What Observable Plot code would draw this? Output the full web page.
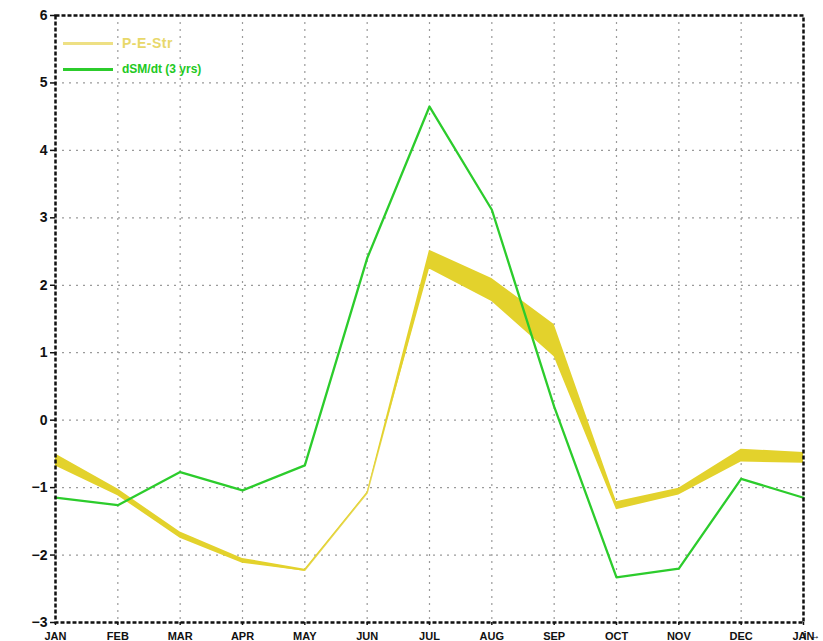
<!DOCTYPE html>
<html>
<head>
<meta charset="utf-8">
<script src="https://cdn.jsdelivr.net/npm/d3@7"></script>
<script src="https://cdn.jsdelivr.net/npm/@observablehq/plot@0.6"></script>
<style>
  html, body { margin: 0; padding: 0; background: #fff; }
  #wrap { position: relative; width: 823px; height: 641px; overflow: hidden; }
  #legend { position: absolute; left: 63px; top: 30px; font-family: "Liberation Sans", Arial, sans-serif; font-weight: bold; }
  .row { display: flex; align-items: center; height: 26px; }
  .sw { width: 50px; height: 3px; margin-right: 9px; }
</style>
</head>
<body>
<div id="wrap">
  <div id="chart"></div>
  <div id="legend">
    <div class="row"><div class="sw" style="background:#eee084"></div><span style="color:#e8d86a;font-size:14px;letter-spacing:0.5px">P-E-Str</span></div>
    <div class="row"><div class="sw" style="background:#2ccc2c"></div><span style="color:#22c922;font-size:12px">dSM/dt (3 yrs)</span></div>
  </div>
</div>
<script>
const months = ["JAN","FEB","MAR","APR","MAY","JUN","JUL","AUG","SEP","OCT","NOV","DEC","JAN"];
const dsmdt = [-1.15, -1.26, -0.77, -1.04, -0.67, 2.4, 4.65, 3.12, 0.2, -2.33, -2.2, -0.87, -1.15];
const pesLow = [-0.68, -1.12, -1.75, -2.12, -2.24, -1.09, 2.24, 1.76, 0.94, -1.33, -1.11, -0.62, -0.64];
const pesHigh = [-0.5, -1.02, -1.66, -2.05, -2.21, -1.07, 2.52, 2.1, 1.42, -1.21, -1.01, -0.43, -0.48];
const yTicks = [-3, -2, -1, 0, 1, 2, 3, 4, 5, 6];

const rows = months.map((m, i) => ({i, m, g: dsmdt[i], lo: pesLow[i], hi: pesHigh[i], mid: (pesLow[i] + pesHigh[i]) / 2}));

const chart = Plot.plot({
  width: 823,
  height: 641,
  marginLeft: 55,
  marginRight: 20,
  marginTop: 15,
  marginBottom: 19,
  style: {background: "#fff", fontFamily: "Liberation Sans, Arial, sans-serif"},
  x: {domain: [0, 12], ticks: d3.range(0, 13)},
  y: {domain: [-3, 6], ticks: yTicks},
  marks: [
    Plot.gridX(d3.range(1, 12), {stroke: "#9a9a9a", strokeOpacity: 1, strokeDasharray: "2,5", strokeWidth: 1.2}),
    Plot.gridY(yTicks.filter(d => d > -3 && d < 6), {stroke: "#9a9a9a", strokeOpacity: 1, strokeDasharray: "2,5", strokeWidth: 1.2}),
    Plot.lineY(rows, {x: "i", y: "mid", stroke: "#e6d85a", strokeWidth: 1.4}),
    Plot.areaY(rows, {x: "i", y1: "lo", y2: "hi", fill: "#e3d22c", fillOpacity: 1}),
    Plot.lineY(rows, {x: "i", y: "g", stroke: "#2ccc2c", strokeWidth: 2.3}),
    Plot.frame({stroke: "#111", strokeWidth: 2.5, strokeDasharray: "4,2"}),
    Plot.axisY({ticks: yTicks, tickSize: 5, tickPadding: 3, fontSize: 14, fontWeight: "bold", stroke: "#111", strokeWidth: 1.5, fill: "#111"}),
    Plot.axisX({ticks: d3.range(0, 13), tickSize: 3, tickPadding: 7, tickFormat: i => months[i], fontSize: 11, fontWeight: "bold", stroke: "#111", strokeWidth: 1.5, fill: "#111"})
  ]
});
document.getElementById("chart").appendChild(chart);
</script>
</body>
</html>
